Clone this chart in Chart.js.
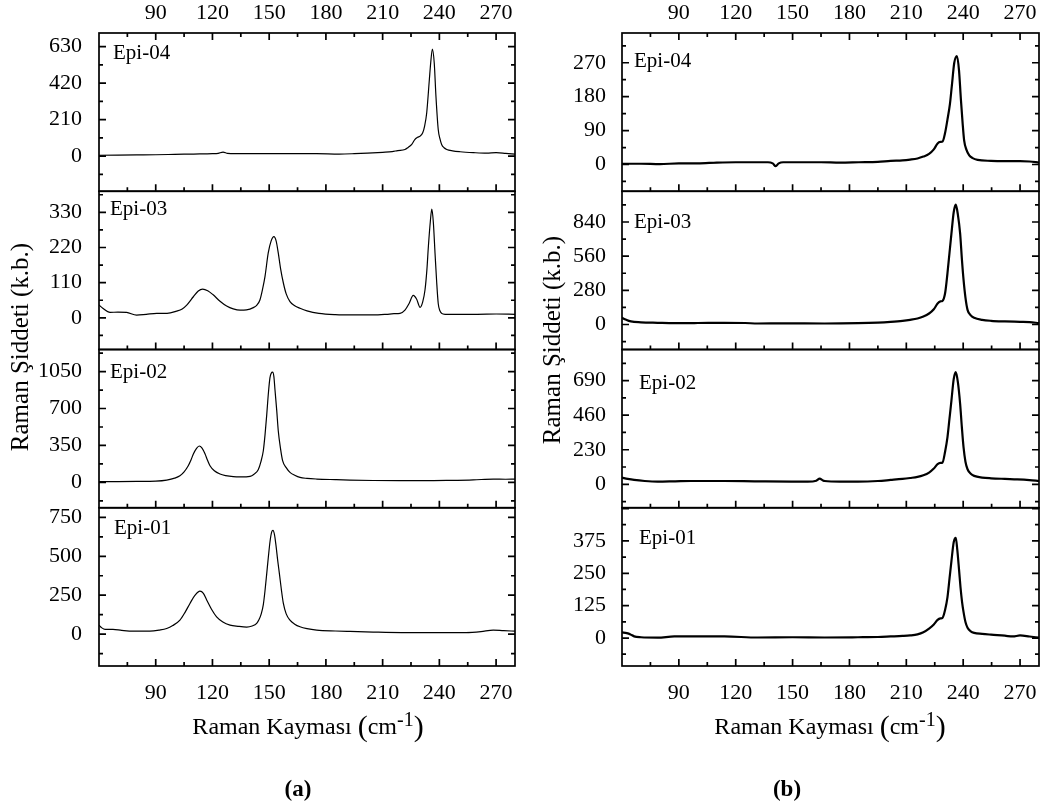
<!DOCTYPE html>
<html lang="tr">
<head>
<meta charset="UTF-8">
<title>Raman Spektrumları</title>
<script src="https://cdn.jsdelivr.net/npm/chart.js"></script>
<style>
  body { margin: 0; background: #fff; }
  canvas { position: absolute; top: 0; }
  #panelA { left: 0; }
  #panelB { left: 524px; }
</style>
</head>
<body>
<canvas id="panelA" width="524" height="810"></canvas>
<canvas id="panelB" width="524" height="810"></canvas>
<script>
// shared x axis (Raman shift, cm-1)
const ramanTicks = [90, 120, 150, 180, 210, 240, 270];
const sampleNames = ['Epi-04', 'Epi-03', 'Epi-02', 'Epi-01'];

// ---- panel (a) ----
const aTicks04 = [0, 210, 420, 630];
const aTicks03 = [0, 110, 220, 330];
const aTicks02 = [0, 350, 700, 1050];
const aTicks01 = [0, 250, 500, 750];

const aEpi04X = [60, 70, 80, 90, 100, 110, 120, 123, 125.6, 128, 132, 145, 160, 175, 187, 195, 202, 210, 215, 218, 221.8, 223.5, 225.4, 227, 228.5, 229.8, 231.2, 232.2, 233.3, 234.7, 235.4, 236.3, 237.3, 238.2, 239.4, 240.3, 241.2, 242.5, 243.9, 247, 251, 258, 265, 270, 275, 280];
const aEpi04Y = [5, 6, 7, 8, 10, 12, 14, 16, 23, 16, 14, 14, 14, 14, 12, 14, 17, 22, 26, 32, 38, 50, 67, 95, 108, 115, 134, 172, 248, 439, 534, 616, 534, 343, 153, 100, 67, 48, 38, 30, 25, 20, 17, 20, 16, 11];

const aEpi03X = [60, 62, 65.8, 70, 74.6, 79.9, 85, 90.5, 96, 101, 104, 106.4, 109.9, 112.5, 114.8, 117.5, 120.4, 124, 127.5, 131, 134.6, 138, 141.6, 143.5, 145.1, 146.5, 147.8, 149.5, 151, 152.5, 153.7, 154.8, 156, 157.5, 159, 161, 163.5, 166.3, 170, 176.3, 185, 195, 205, 212, 216, 219.2, 221.8, 224, 226.2, 228, 229.8, 231.2, 232.4, 233.4, 234.2, 235.2, 236, 236.8, 237.7, 238.6, 239.4, 240.3, 241.2, 243, 250, 260, 270, 280];
const aEpi03Y = [40, 30, 17, 18, 17, 8.5, 11, 14, 14, 21, 28, 40, 66, 84, 90, 85, 72, 52, 37, 28, 24, 25, 32, 40, 56, 90, 130, 203, 240, 254, 240, 203, 155, 109, 75, 51, 38, 30, 22, 14, 10, 9, 9, 11, 13, 14, 24, 45, 70, 58, 33, 50, 87, 150, 224, 300, 340, 300, 203, 110, 45, 22, 14, 11, 11, 11, 12, 11];

const aEpi02X = [60, 70, 80, 90, 95.8, 100, 102.8, 105, 107.2, 108.7, 109.9, 111.5, 113, 114.5, 116.1, 117.4, 118.7, 121, 124, 127, 131, 135, 139.9, 142, 144.2, 145.6, 146.9, 147.8, 148.7, 149.6, 150.4, 151.1, 151.8, 152.5, 153.1, 154, 154.8, 156, 157.1, 159, 161, 163.5, 166.3, 170, 175.1, 185, 192.7, 205, 219, 232, 245.4, 258, 268.5, 275, 280];
const aEpi02Y = [8, 8, 9, 12, 22, 40, 63, 100, 158, 215, 269, 320, 345, 325, 269, 210, 158, 110, 79, 64, 54, 52, 57, 78, 120, 195, 300, 450, 640, 850, 990, 1035, 1044, 1000, 870, 680, 490, 320, 206, 140, 95, 68, 47, 38, 32, 26, 22, 18, 16, 16, 19, 24, 32, 30, 32];

const aEpi01X = [60, 61.5, 63.2, 67.4, 72, 78.1, 86.9, 92, 95.8, 99, 102.8, 105.5, 108.1, 110.8, 113.4, 115.2, 117, 119.5, 122.2, 125.5, 129.3, 133.5, 138.1, 141, 143.4, 144.5, 145.8, 146.9, 147.8, 148.7, 149.6, 150.5, 151.3, 152, 152.8, 153.6, 154.5, 155.4, 156.4, 157.5, 159, 161, 163.5, 166.3, 170, 175.1, 185, 192.7, 205, 220, 240, 254, 262, 268.5, 274, 280];
const aEpi01Y = [58, 40, 30, 30, 24, 19, 19, 26, 36, 55, 90, 140, 197, 250, 276, 262, 218, 160, 111, 78, 58, 50, 45, 52, 69, 90, 130, 190, 280, 389, 500, 600, 655, 667, 640, 570, 474, 389, 290, 197, 130, 90, 64, 47, 35, 26, 20, 17, 13, 10, 10, 10, 16, 26, 22, 19];

// ---- panel (b) ----
const bTicks04 = [0, 90, 180, 270];
const bTicks03 = [0, 280, 560, 840];
const bTicks02 = [0, 230, 460, 690];
const bTicks01 = [0, 125, 250, 375];

const bEpi04X = [60, 70, 80, 90, 100, 110, 120, 130, 137, 139.5, 141.1, 142.7, 145, 155, 165, 175, 185, 195, 201.7, 208, 212, 215.9, 219, 222, 224.5, 226.5, 228, 229.1, 230.5, 231.7, 233, 234, 235.3, 236.7, 237.8, 238.8, 239.7, 240.5, 241.8, 243.2, 245, 247.6, 254.7, 262, 270, 275, 280];
const bEpi04Y = [2, 2, 1, 3, 3, 5, 6, 6, 6, 3, -4.4, 3, 6, 6, 6, 5, 6, 7, 9.7, 11, 13, 16, 21, 28, 40, 56, 60, 61, 85, 119, 160, 208, 270, 288, 250, 172, 110, 64, 38, 24, 17, 12.4, 9.7, 9, 9, 8, 5];

const bEpi03X = [60, 62, 64.7, 70, 78.8, 87.6, 100, 114, 125, 131.7, 145, 166.9, 184.5, 195, 201.7, 208, 212, 215.9, 219, 222, 224.5, 226.5, 228, 229.1, 230.5, 231.7, 232.8, 233.8, 235, 236.1, 237.2, 238.4, 239.3, 240.2, 241.2, 242.3, 244, 245.8, 250, 254.7, 262, 270, 275, 280];
const bEpi03Y = [55, 40, 25, 18, 14, 11, 12, 14, 12, 8, 9, 8, 11, 16, 22, 30, 38, 49, 65, 90, 125, 172, 190, 194, 260, 419, 590, 744, 920, 982, 900, 744, 540, 365, 220, 120, 75, 55, 38, 30, 25, 22, 20, 11];

const bEpi02X = [60, 63, 66.4, 72, 78.8, 88, 96.4, 114, 130, 149.3, 158, 162.5, 164.3, 166, 166.9, 175, 184.5, 195, 201.7, 208, 212, 215.9, 219, 222, 224.5, 226.5, 228, 229.1, 230.5, 231.7, 232.8, 233.8, 235, 236.1, 237.2, 238.4, 239.3, 240.2, 241.2, 242.3, 244, 245.8, 250, 254.7, 262, 268.5, 275, 280];
const bEpi02Y = [44, 36, 29, 22, 18, 20, 22, 22, 20, 18, 18, 24, 38, 26, 22, 18, 18, 22, 29, 36, 42, 49, 60, 78, 105, 134, 142, 145, 220, 312, 440, 557, 700, 746, 680, 534, 380, 245, 150, 100, 70, 56, 45, 40, 36, 33, 28, 22];

const bEpi01X = [60, 62.5, 64.5, 66.4, 70, 78.8, 87.6, 100, 114, 131.7, 150, 166.9, 184.5, 195, 201.7, 208, 212, 215.9, 219, 222, 224.5, 226.5, 228, 229.1, 230.5, 231.7, 232.8, 233.8, 235, 236.1, 236.9, 237.8, 238.6, 239.4, 240.2, 241.2, 242.3, 244, 245.8, 250, 254.7, 262, 266.2, 270, 275, 280];
const bEpi01Y = [22, 19, 14, 6.4, 3, 1.5, 6, 6, 6, 2, 3, 2, 3, 4, 6, 8, 10, 14, 22, 36, 52, 70, 76, 78, 110, 157, 230, 297, 370, 387, 340, 265, 195, 140, 100, 62, 40, 26, 20, 16, 13, 9, 6, 10, 6, 1.5];

const SERIF = '"Liberation Serif", "Times New Roman", serif';
Chart.defaults.font.family = SERIF;
Chart.defaults.color = '#000';

// frames, inward ticks, sample names and titles of one panel
const framePlugin = {
  id: 'frames',
  afterDatasetsDraw(chart, args, o) {
    const ctx = chart.ctx;
    const area = chart.chartArea;
    const xs = chart.scales.x;
    const xHalf = (ramanTicks[1] - ramanTicks[0]) / 2;
    const xMinor = [];
    for (let v = ramanTicks[0] - xHalf; v < xs.max; v += xHalf) {
      if (v > xs.min) xMinor.push(v);
    }
    ctx.save();
    ctx.strokeStyle = '#000';
    ctx.fillStyle = '#000';
    ctx.lineWidth = 1.7;
    o.names.forEach((name, i) => {
      const ys = chart.scales['y' + i];
      ctx.strokeRect(area.left, ys.top, area.right - area.left, ys.bottom - ys.top);
      ctx.beginPath();
      const t = ys.ticks.map(k => k.value);
      const half = (t[1] - t[0]) / 2;
      for (let k = Math.ceil((ys.min - t[0]) / half); t[0] + k * half <= ys.max; k++) {
        const py = ys.getPixelForValue(t[0] + k * half);
        const len = k % 2 === 0 ? 7 : 4;
        ctx.moveTo(area.left, py); ctx.lineTo(area.left + len, py);
        ctx.moveTo(area.right, py); ctx.lineTo(area.right - len, py);
      }
      xMinor.forEach(v => {
        const px = xs.getPixelForValue(v);
        const len = ramanTicks.includes(v) ? 7 : 4;
        ctx.moveTo(px, ys.bottom); ctx.lineTo(px, ys.bottom - len);
        if (i === 0) { ctx.moveTo(px, ys.top); ctx.lineTo(px, ys.top + len); }
      });
      ctx.stroke();
      ctx.font = '21px ' + SERIF;
      ctx.textAlign = 'left';
      ctx.textBaseline = 'alphabetic';
      ctx.fillText(name, area.left + o.labelDx[i], ys.top + o.labelDy[i]);
    });

    // y title
    ctx.save();
    ctx.translate(o.yTitleX, o.yTitleY);
    ctx.rotate(-Math.PI / 2);
    ctx.font = '25px ' + SERIF;
    ctx.textAlign = 'center';
    ctx.fillText('Raman Şiddeti (k.b.)', 0, 0);
    ctx.restore();

    // x title with superscript unit
    const parts = [
      ['Raman Kayması ', '24px ' + SERIF, 0],
      ['(', '30px ' + SERIF, 2],
      ['cm', '24px ' + SERIF, 0],
      ['-1', '20px ' + SERIF, -8],
      [')', '30px ' + SERIF, 2]
    ];
    let total = 0;
    parts.forEach(p => { ctx.font = p[1]; total += ctx.measureText(p[0]).width; });
    let x = o.xTitleX - total / 2;
    ctx.textAlign = 'left';
    parts.forEach(p => {
      ctx.font = p[1];
      ctx.fillText(p[0], x, o.xTitleY + p[2]);
      x += ctx.measureText(p[0]).width;
    });

    // panel letter
    ctx.font = 'bold 23px ' + SERIF;
    ctx.textAlign = 'center';
    ctx.fillText(o.letter, o.letterX, 796);
    ctx.restore();
  }
};

function makePanel(id, samples, o) {
  const plotLeft = o.plotLeft;
  const xAxis = (pos, pad, h) => ({
    type: 'linear', position: pos, min: 60, max: 280,
    grid: { display: false }, border: { display: false },
    afterBuildTicks: s => { s.ticks = ramanTicks.map(v => ({ value: v })); },
    afterFit: s => { s.height = h; },
    ticks: { autoSkip: false, maxRotation: 0, padding: pad, font: { size: 22 }, callback: v => String(v) }
  });
  const scales = { x: xAxis('bottom', 6, 144), xTop: xAxis('top', -1, 33) };
  samples.forEach((s, i) => {
    scales['y' + i] = {
      type: 'linear', position: 'left', stack: 'epi', stackWeight: 1, weight: samples.length - i,
      min: s.range[0], max: s.range[1],
      grid: { display: false }, border: { display: false },
      afterBuildTicks: sc => { sc.ticks = s.ticks.map(v => ({ value: v })); },
      afterFit: sc => { sc.width = plotLeft; },
      ticks: { autoSkip: false, padding: o.tickPad, font: { size: 22 }, callback: v => String(v) }
    };
  });
  return new Chart(document.getElementById(id), {
    type: 'line',
    data: {
      datasets: samples.map((s, i) => ({
        label: sampleNames[i],
        data: s.x.map((xv, j) => ({ x: xv, y: s.y[j] })),
        xAxisID: 'x', yAxisID: 'y' + i,
        borderColor: '#000', borderWidth: o.lineWidth,
        pointRadius: 0, cubicInterpolationMode: 'monotone', fill: false
      }))
    },
    options: {
      responsive: false, animation: false, devicePixelRatio: 1,
      layout: { padding: { left: 0, right: o.padRight, top: 0, bottom: 0 } },
      scales,
      plugins: {
        legend: { display: false }, tooltip: { enabled: false },
        frames: {
          names: sampleNames, labelDx: o.labelDx, labelDy: o.labelDy,
          yTitleX: o.yTitleX, yTitleY: o.yTitleY, xTitleX: o.xTitleX, xTitleY: 734,
          letter: o.letter, letterX: o.letterX
        }
      }
    },
    plugins: [framePlugin]
  });
}

makePanel('panelA', [
  { x: aEpi04X, y: aEpi04Y, ticks: aTicks04, range: [-202, 708] },
  { x: aEpi03X, y: aEpi03Y, ticks: aTicks03, range: [-99, 396] },
  { x: aEpi02X, y: aEpi02Y, ticks: aTicks02, range: [-240, 1259] },
  { x: aEpi01X, y: aEpi01Y, ticks: aTicks01, range: [-205, 812] }
], {
  plotLeft: 99, padRight: 9, tickPad: 9, lineWidth: 1.2,
  labelDx: [14, 11, 11, 15], labelDy: [26, 24, 28, 26],
  yTitleX: 28, yTitleY: 347, xTitleX: 308, letter: '(a)', letterX: 298
});

makePanel('panelB', [
  { x: bEpi04X, y: bEpi04Y, ticks: bTicks04, range: [-71, 349] },
  { x: bEpi03X, y: bEpi03Y, ticks: bTicks03, range: [-205, 1092] },
  { x: bEpi02X, y: bEpi02Y, ticks: bTicks02, range: [-156, 897] },
  { x: bEpi01X, y: bEpi01Y, ticks: bTicks01, range: [-108, 503] }
], {
  plotLeft: 98, padRight: 9, tickPad: 8, lineWidth: 2.2,
  labelDx: [12, 12, 17, 17], labelDy: [34, 37, 39, 36],
  yTitleX: 36, yTitleY: 340, xTitleX: 306, letter: '(b)', letterX: 263
});
</script>
</body>
</html>
